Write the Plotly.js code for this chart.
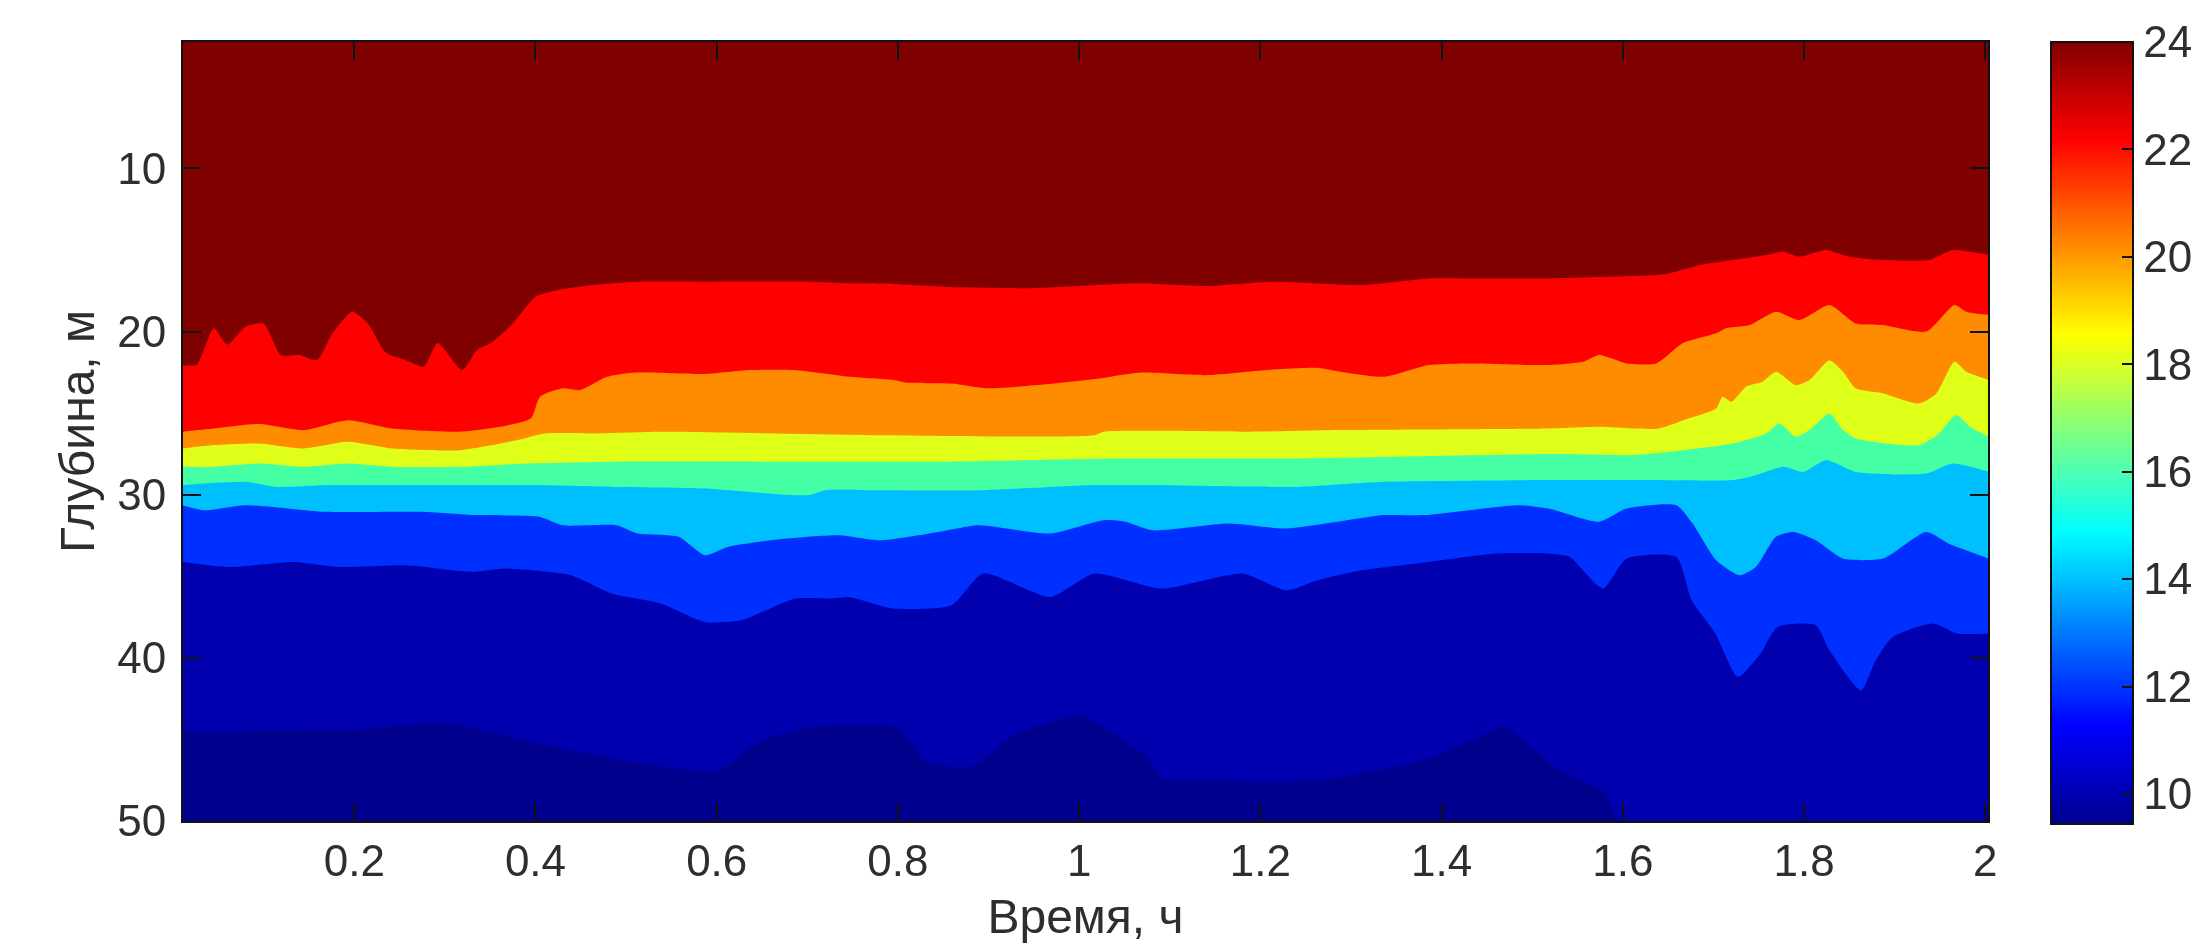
<!DOCTYPE html>
<html><head><meta charset="utf-8">
<script src="https://cdn.plot.ly/plotly-3.0.1.min.js"></script>
<style>html,body{margin:0;padding:0;background:#fff;overflow:hidden}#chart{width:2205px;height:945px;filter:blur(0.7px)}</style>
</head><body><div id="chart"></div>
<script>
// Isotherm depths (m), warmest boundary first
const t1 = [0.01,0.026,0.045,0.06,0.08,0.1,0.119,0.139,0.159,0.176,0.198,0.215,0.235,0.257,0.277,0.292,0.319,0.336,0.351,0.375,0.4,0.425,0.464,0.513,0.6,0.7,0.746,0.795,0.869,0.943,1.066,1.14,1.214,1.312,1.386,1.436,1.518,1.593,1.648,1.685,1.721,1.758,1.777,1.795,1.824,1.85,1.887,1.938,1.964,2.004];
const d1 = [22.05,22.05,19.8,20.8,19.7,19.5,21.44,21.44,21.75,20.1,18.78,19.5,21.3,21.75,22.15,20.7,22.36,21.1,20.7,19.5,17.86,17.45,17.14,16.94,16.94,16.94,17.04,17.08,17.29,17.35,17.04,17.21,16.94,17.14,16.74,16.74,16.74,16.63,16.47,15.92,15.61,15.3,15.1,15.41,15.0,15.41,15.61,15.61,15.0,15.3];
const t2 = [0.01,0.045,0.095,0.144,0.193,0.242,0.316,0.361,0.395,0.405,0.43,0.449,0.479,0.508,0.587,0.636,0.686,0.746,0.795,0.81,0.859,0.899,0.953,1.022,1.066,1.14,1.214,1.263,1.288,1.337,1.386,1.426,1.518,1.556,1.574,1.604,1.637,1.666,1.703,1.714,1.74,1.769,1.795,1.828,1.857,1.887,1.935,1.966,1.979,2.004];
const d2 = [26.14,25.94,25.67,26.04,25.43,25.94,26.14,25.84,25.32,24.0,23.48,23.59,22.77,22.52,22.6,22.36,22.36,22.77,22.97,23.14,23.18,23.48,23.28,22.87,22.52,22.67,22.32,22.22,22.46,22.77,22.05,21.95,22.05,21.85,21.44,21.95,21.95,20.72,20.11,19.8,19.6,18.78,19.29,18.37,19.5,19.6,20.0,18.37,18.78,18.98];
const t3 = [0.01,0.045,0.095,0.144,0.193,0.242,0.316,0.38,0.41,0.469,0.538,0.768,1.017,1.027,1.189,1.288,1.518,1.574,1.611,1.64,1.673,1.703,1.71,1.72,1.736,1.754,1.769,1.791,1.806,1.828,1.843,1.857,1.887,1.927,1.946,1.966,1.979,2.004];
const d3 = [27.17,26.96,26.86,27.17,26.76,27.17,27.27,26.65,26.24,26.24,26.14,26.35,26.35,26.14,26.14,26.04,25.94,25.84,25.94,25.94,25.32,24.71,23.99,24.3,23.38,23.08,22.46,23.28,22.97,21.75,22.46,23.48,23.79,24.4,23.79,21.85,22.46,22.97];
const t4 = [0.01,0.045,0.095,0.144,0.193,0.242,0.316,0.39,0.489,0.768,0.845,1.04,1.239,1.518,1.611,1.666,1.721,1.758,1.773,1.791,1.806,1.828,1.843,1.857,1.927,1.949,1.968,1.983,2.004];
const d4 = [28.29,28.29,28.09,28.29,28.09,28.29,28.29,28.09,27.98,27.98,27.98,27.78,27.78,27.51,27.57,27.27,26.86,26.24,25.63,26.45,26.04,25.02,26.04,26.55,26.96,26.24,25.12,25.84,26.45];
const t5 = [0.01,0.08,0.114,0.173,0.292,0.39,0.489,0.587,0.70,0.72,0.768,0.894,1.017,1.066,1.239,1.337,1.518,1.604,1.721,1.747,1.777,1.799,1.824,1.857,1.935,1.964,2.004];
const d5 = [29.41,29.21,29.52,29.41,29.41,29.41,29.52,29.62,30.03,29.72,29.72,29.72,29.41,29.41,29.52,29.21,29.1,29.1,29.1,28.8,28.29,28.6,27.88,28.6,28.7,28.09,28.6];
const t6 = [0.01,0.035,0.08,0.168,0.272,0.331,0.405,0.43,0.489,0.513,0.558,0.587,0.612,0.676,0.735,0.78,0.845,0.889,0.968,1.027,1.051,1.081,1.165,1.229,1.337,1.381,1.485,1.518,1.574,1.604,1.659,1.677,1.703,1.729,1.747,1.769,1.788,1.813,1.843,1.887,1.935,1.96,2.004];
const d6 = [30.64,30.95,30.64,31.05,31.05,31.25,31.36,31.87,31.87,32.38,32.58,33.71,33.2,32.69,32.48,32.79,32.28,31.87,32.38,31.56,31.66,32.18,31.77,32.07,31.25,31.25,30.64,30.85,31.66,30.85,30.64,31.77,34.02,34.94,34.42,32.58,32.28,32.79,33.91,33.91,32.28,33.0,33.91];
const t7 = [0.01,0.06,0.134,0.183,0.257,0.331,0.366,0.439,0.484,0.538,0.587,0.627,0.686,0.725,0.746,0.795,0.859,0.894,0.968,1.017,1.091,1.18,1.229,1.263,1.312,1.386,1.46,1.518,1.541,1.578,1.604,1.659,1.676,1.702,1.727,1.752,1.771,1.813,1.828,1.863,1.879,1.898,1.943,1.968,2.004];
const d7 = [34.12,34.43,34.12,34.43,34.32,34.73,34.53,34.94,36.06,36.67,37.8,37.7,36.37,36.37,36.27,36.98,36.78,34.83,36.27,34.83,35.75,34.83,35.86,35.24,34.63,34.12,33.61,33.61,33.81,35.75,33.91,33.81,36.47,38.5,41.17,39.74,38.1,38.0,39.54,42.0,40.15,38.72,37.9,38.5,38.5];
const t8 = [0.01,0.2,0.3,0.4,0.5,0.6,0.65,0.7,0.8,0.83,0.88,0.93,1.0,1.04,1.075,1.09,1.14,1.2,1.265,1.33,1.39,1.44,1.47,1.49,1.53,1.58,1.6,2.004];
const d8 = [44.5,44.4,44.0,45.2,46.3,46.9,45.1,44.3,44.3,46.3,46.7,44.7,43.6,44.7,46.1,47.3,47.5,47.6,47.5,46.9,46.1,44.9,44.2,45.1,46.9,48.3,50.5,50.5];

const bandColors = ['#0000ae','#0030ff','#00bfff','#44ffa4','#e0ff18','#ff8c00','#ff0000','#800000'];
const xTicks = [0.2,0.4,0.6,0.8,1,1.2,1.4,1.6,1.8,2];
const yTicks = [10,20,30,40,50];
const barTicks = [10,12,14,16,18,20,22,24];
const barMin = 9.44, barMax = 24;
const xName = 'Время, ч', yName = 'Глубина, м';

const jet = [[0,'rgb(0,0,143)'],[0.125,'rgb(0,0,255)'],[0.375,'rgb(0,255,255)'],[0.625,'rgb(255,255,0)'],[0.875,'rgb(255,0,0)'],[1,'rgb(128,0,0)']];
const font = {family:'"Liberation Sans", Arial, sans-serif', size:44, color:'#2e2e2e'};
const titleFont = {family:font.family, size:48, color:'#2e2e2e'};

const bands = [[t8,d8],[t7,d7],[t6,d6],[t5,d5],[t4,d4],[t3,d3],[t2,d2],[t1,d1]];
const traces = bands.map(([x,y],i)=>({type:'scatter',mode:'lines',x,y,fill:'tozeroy',fillcolor:bandColors[i],
  line:{width:0,color:bandColors[i],shape:'spline',smoothing:0.6},hoverinfo:'skip',showlegend:false}));
traces.push({type:'scatter',mode:'markers',x:[1],y:[-5],showlegend:false,hoverinfo:'skip',
  marker:{size:1,opacity:0,color:[barMax],cmin:barMin,cmax:barMax,colorscale:jet,showscale:true,
    colorbar:{x:(2051-183)/1805,xanchor:'left',xpad:0,y:1,yanchor:'top',ypad:0,thickness:82,thicknessmode:'pixels',
      len:782,lenmode:'pixels',tickmode:'array',tickvals:barTicks,ticktext:barTicks.map(String),ticks:'inside',ticklen:12,
      tickcolor:'#111',tickwidth:2,outlinecolor:'#111',outlinewidth:2,borderwidth:0,tickfont:font}}});

// the colour bar's ticks are mirrored on its left edge, as in the axes
const barShapes = barTicks.map(v=>{
  const py = 42.5 + (barMax-v)/(barMax-barMin)*782;
  const yp = 1-(py-42)/779;
  const x0 = (2051-183)/1805;
  return {type:'line',xref:'paper',yref:'paper',x0,x1:x0+12/1805,y0:yp,y1:yp,line:{color:'#111',width:2}};
});

Plotly.newPlot('chart',traces,{
  width:2205,height:945,margin:{l:183,r:217,t:42,b:124,pad:0,autoexpand:false},
  paper_bgcolor:'#fff',plot_bgcolor:'#00008c',showlegend:false,font,shapes:barShapes,
  xaxis:{range:[0.011,2.003],tickmode:'array',tickvals:xTicks,ticktext:xTicks.map(String),ticks:'inside',ticklen:18,tickwidth:2,tickcolor:'#111',
    showline:true,linecolor:'#111',linewidth:2,mirror:'ticks',showgrid:false,zeroline:false,layer:'above traces',tickfont:font,
    title:{text:xName,font:titleFont,standoff:16}},
  yaxis:{range:[50,2.25],tickmode:'array',tickvals:yTicks,ticktext:yTicks.map(String),ticks:'inside',ticklen:18,tickwidth:2,tickcolor:'#111',ticklabelstandoff:6,
    showline:true,linecolor:'#111',linewidth:2,mirror:'ticks',showgrid:false,zeroline:false,layer:'above traces',tickfont:font,
    title:{text:yName,font:titleFont,standoff:7}}
},{displayModeBar:false,staticPlot:true});
</script></body></html>
